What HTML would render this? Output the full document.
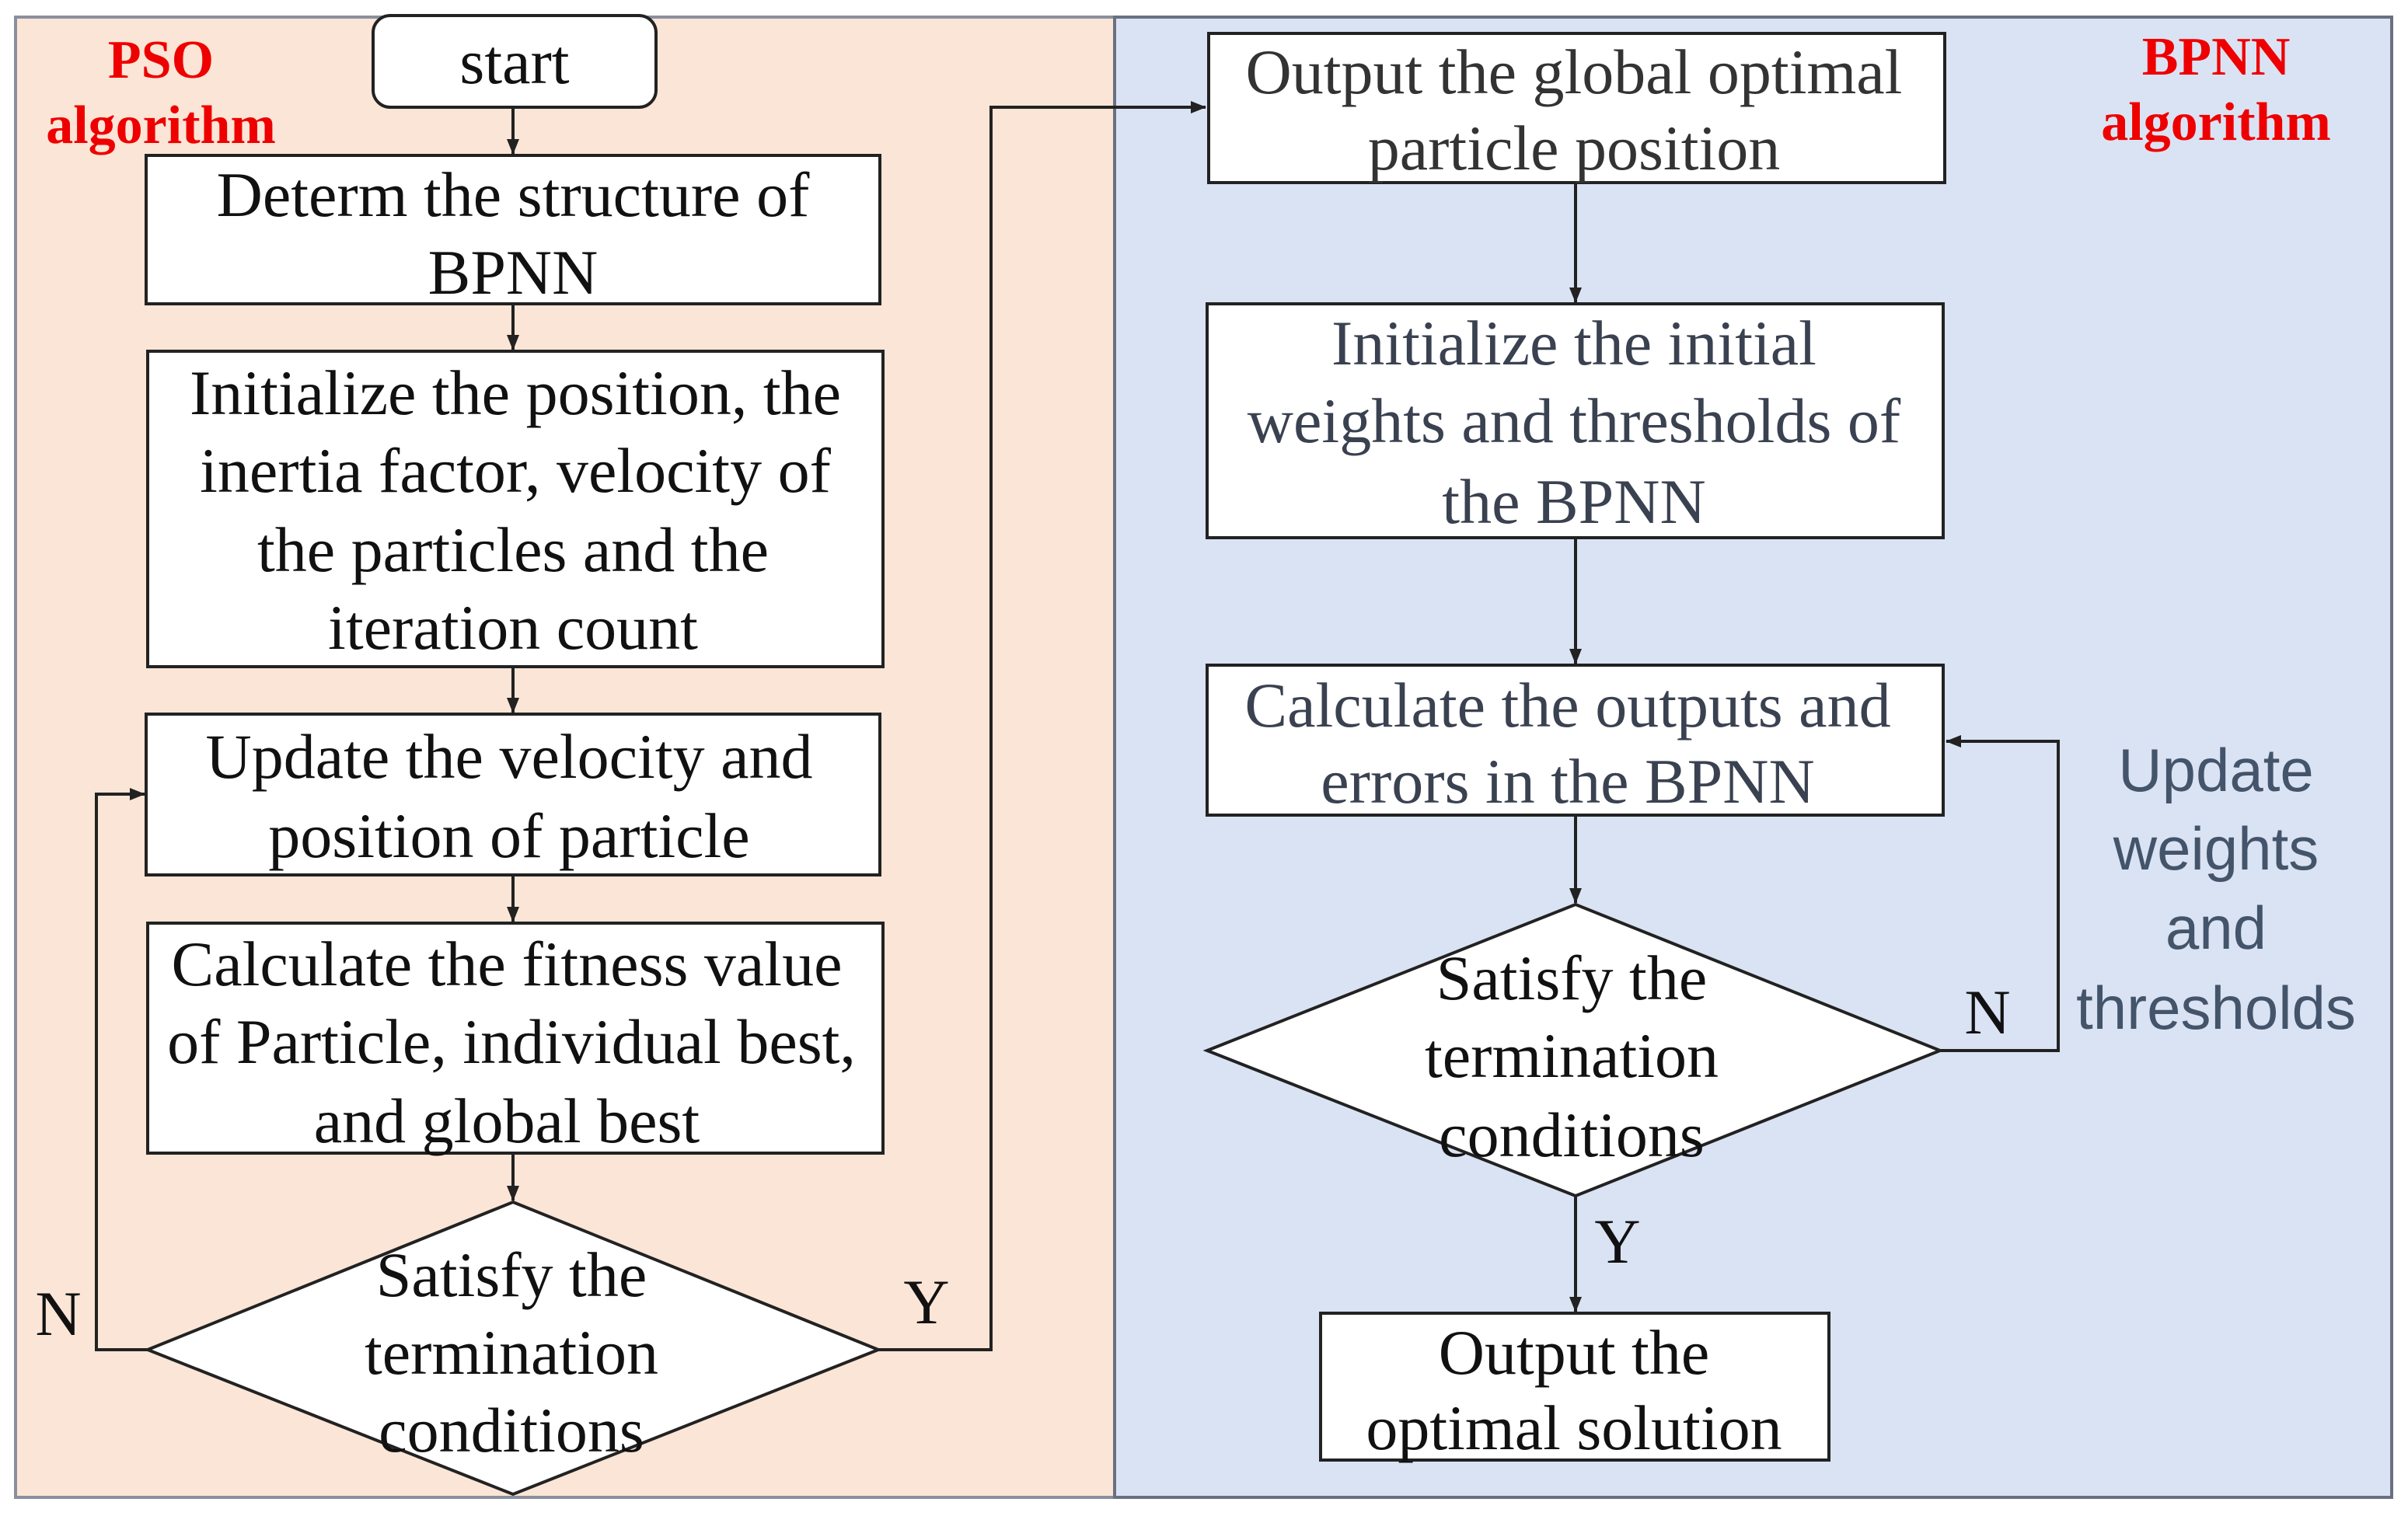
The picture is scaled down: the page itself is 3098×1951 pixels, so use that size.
<!DOCTYPE html>
<html><head><meta charset="utf-8"><style>
html,body{margin:0;padding:0;background:#fff;}
svg{display:block;}
.t{font-family:"Liberation Serif",serif;font-size:82px;fill:#111;text-anchor:middle;}
.b{fill:#fff;stroke:#222;stroke-width:4;}
.l{stroke:#222;stroke-width:4;fill:none;}
.r{font-family:"Liberation Serif",serif;font-weight:bold;font-size:70px;fill:#ee0000;text-anchor:middle;}
.s{font-family:"Liberation Sans",sans-serif;font-size:78px;fill:#44546a;text-anchor:middle;}
</style></head><body>
<svg width="3098" height="1951" viewBox="0 0 3098 1951" xmlns="http://www.w3.org/2000/svg">
<defs><marker id="m" markerWidth="20" markerHeight="16" refX="19" refY="8" orient="auto" markerUnits="userSpaceOnUse"><path d="M0,0 L20,8 L0,16z" fill="#222"/></marker></defs>
<rect x="20" y="22" width="1414" height="1905" fill="#fbe5d6" stroke="#8a8fa0" stroke-width="4"/>
<rect x="1434" y="22" width="1643" height="1905" fill="#dae3f3" stroke="#6a7080" stroke-width="4"/>
<text class="r" x="207" y="100">PSO</text>
<text class="r" x="207" y="184">algorithm</text>
<text class="r" x="2851" y="96">BPNN</text>
<text class="r" x="2851" y="180">algorithm</text>
<!-- left -->
<rect class="b" x="480" y="20" width="364" height="118" rx="22"/>
<text class="t" x="662" y="107">start</text>
<line class="l" x1="660" y1="138" x2="660" y2="198" marker-end="url(#m)"/>
<rect class="b" x="188" y="200" width="944" height="191"/>
<text class="t" x="660" y="278">Determ the structure of</text>
<text class="t" x="660" y="378">BPNN</text>
<line class="l" x1="660" y1="391" x2="660" y2="450" marker-end="url(#m)"/>
<rect class="b" x="190" y="452" width="946" height="406"/>
<text class="t" x="663" y="533">Initialize the position, the</text>
<text class="t" x="663" y="633">inertia factor, velocity of</text>
<text class="t" x="660" y="735">the particles and the</text>
<text class="t" x="660" y="835">iteration count</text>
<line class="l" x1="660" y1="858" x2="660" y2="917" marker-end="url(#m)"/>
<rect class="b" x="188" y="919" width="944" height="207"/>
<text class="t" x="655" y="1001">Update the velocity and</text>
<text class="t" x="655" y="1103">position of  particle</text>
<line class="l" x1="660" y1="1126" x2="660" y2="1186" marker-end="url(#m)"/>
<rect class="b" x="190" y="1188" width="946" height="296"/>
<text class="t" x="652" y="1268">Calculate the fitness value</text>
<text class="t" x="658" y="1368">of Particle, individual best,</text>
<text class="t" x="652" y="1470">and global best</text>
<line class="l" x1="660" y1="1484" x2="660" y2="1545" marker-end="url(#m)"/>
<polygon class="b" points="660,1547 1130,1737 660,1923 190,1737"/>
<text class="t" x="658" y="1668">Satisfy the</text>
<text class="t" x="658" y="1768">termination</text>
<text class="t" x="658" y="1868">conditions</text>
<polyline class="l" points="190,1737 124,1737 124,1022 186,1022" marker-end="url(#m)"/>
<text class="t" x="75" y="1718">N</text>
<polyline class="l" points="1130,1737 1275,1737 1275,138 1551,138" marker-end="url(#m)"/>
<text class="t" x="1192" y="1703">Y</text>
<!-- right -->
<rect class="b" x="1555" y="43" width="947" height="192"/>
<text class="t" x="2025" y="120" style="fill:#333">Output the global optimal</text>
<text class="t" x="2025" y="218" style="fill:#333">particle position</text>
<line class="l" x1="2027" y1="235" x2="2027" y2="389" marker-end="url(#m)"/>
<rect class="b" x="1553" y="391" width="947" height="301"/>
<text class="t" x="2025" y="469" style="fill:#3a4150">Initialize the initial</text>
<text class="t" x="2025" y="569" style="fill:#3a4150">weights and thresholds of</text>
<text class="t" x="2025" y="673" style="fill:#3a4150">the BPNN</text>
<line class="l" x1="2027" y1="692" x2="2027" y2="854" marker-end="url(#m)"/>
<rect class="b" x="1553" y="856" width="947" height="193"/>
<text class="t" x="2017" y="935" style="fill:#3a4150">Calculate the outputs and</text>
<text class="t" x="2017" y="1033" style="fill:#3a4150">errors in the BPNN</text>
<line class="l" x1="2027" y1="1049" x2="2027" y2="1162" marker-end="url(#m)"/>
<polygon class="b" points="2027,1164 2496,1352 2027,1539 1553,1352"/>
<text class="t" x="2022" y="1286">Satisfy the</text>
<text class="t" x="2022" y="1386">termination</text>
<text class="t" x="2022" y="1488">conditions</text>
<polyline class="l" points="2496,1352 2648,1352 2648,954 2504,954" marker-end="url(#m)"/>
<text class="t" x="2557" y="1330">N</text>
<text class="s" x="2851" y="1018">Update</text>
<text class="s" x="2851" y="1119">weights</text>
<text class="s" x="2851" y="1221">and</text>
<text class="s" x="2851" y="1324">thresholds</text>
<line class="l" x1="2027" y1="1539" x2="2027" y2="1688" marker-end="url(#m)"/>
<text class="t" x="2081" y="1625">Y</text>
<rect class="b" x="1699" y="1690" width="654" height="189"/>
<text class="t" x="2025" y="1768">Output the</text>
<text class="t" x="2025" y="1865">optimal solution</text>
</svg>
</body></html>
